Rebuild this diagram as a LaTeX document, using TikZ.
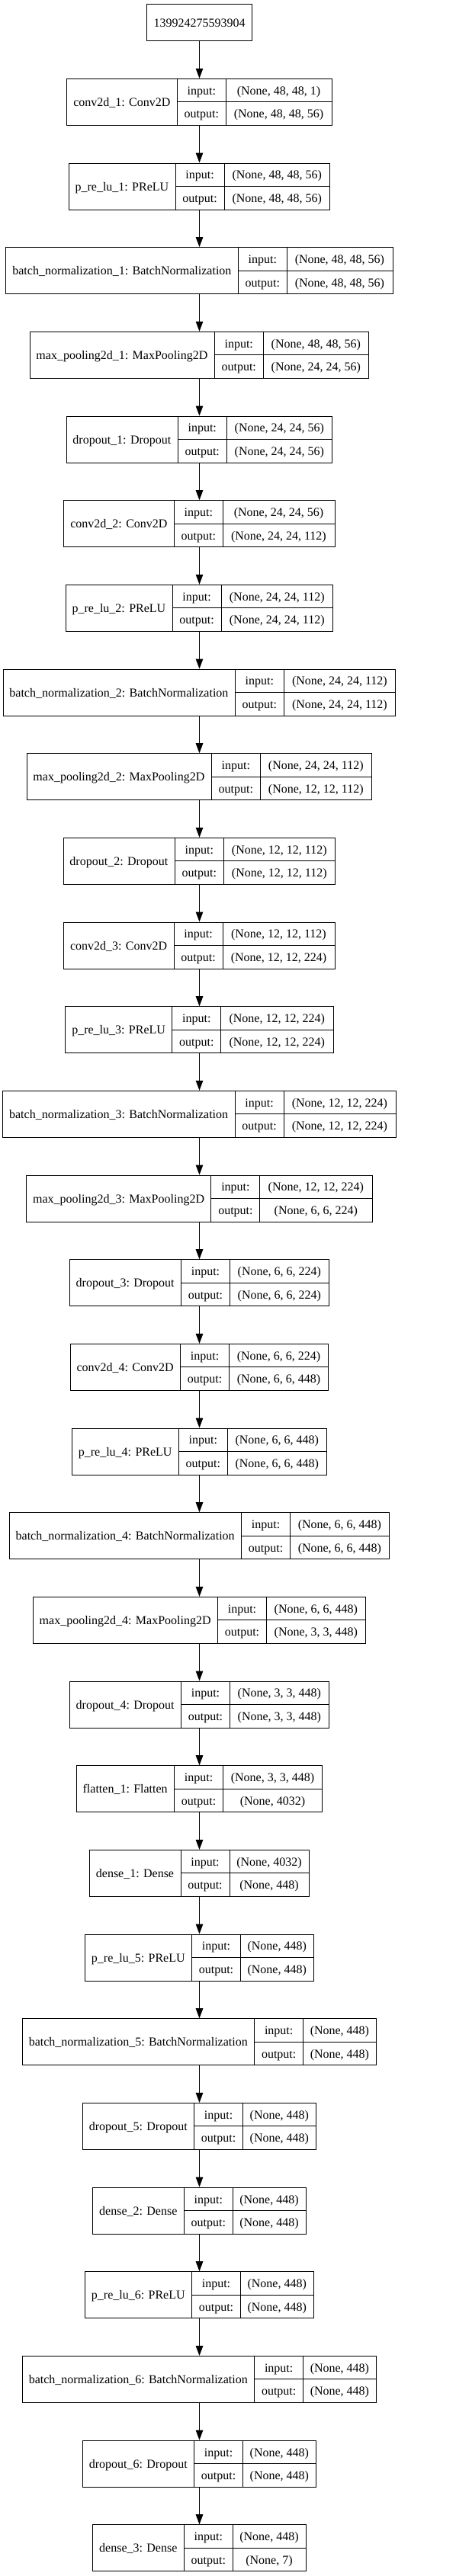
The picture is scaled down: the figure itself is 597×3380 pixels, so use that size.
\documentclass[tikz,border=0pt]{standalone}
\usepackage{fontspec}
\setmainfont{Liberation Serif}
\usepackage{tikz}
\usetikzlibrary{arrows.meta}

\font\kfont="Liberation Serif" at 16pt
\newlength\namew \newlength\valw \newlength\tmpw

\tikzset{
  layer/.style={draw, line width=1pt, minimum height=61pt, inner sep=0pt},
  cell/.style={inner sep=0pt, font=\kfont, text height=14pt, text depth=2.6pt},
  flow/.style={line width=1pt, -{Triangle[length=13pt,width=9.5pt]}},
}

% one layer box: #1 name, #2 y, #3 title, #4 input shape, #5 output shape
\newcommand\layer[5]{%
  \settowidth\namew{\kfont #3}\addtolength\namew{17.8pt}%
  \settowidth\valw{\kfont #4}\settowidth\tmpw{\kfont #5}%
  \ifdim\tmpw>\valw \valw=\tmpw\fi
  \valw=1.069\valw \addtolength\valw{12.8pt}%
  \pgfmathsetlengthmacro\totw{\namew+64pt+\valw}%
  \node[layer, minimum width=\totw] (#1) at (261.5,#2) {};
  \draw[line width=1pt] ([xshift=\namew]#1.north west) -- ([xshift=\namew]#1.south west);
  \draw[line width=1pt] ([xshift=\namew+64pt]#1.north west) -- ([xshift=\namew+64pt]#1.south west);
  \draw[line width=1pt] ([xshift=\namew]#1.west) -- (#1.east);
  \node[cell] (#1-t) at ([xshift=0.5\namew]#1.west) {#3};
  \node[cell] (#1-i) at ([xshift=\namew+32pt,yshift=15.25pt]#1.west) {input:};
  \node[cell] (#1-o) at ([xshift=\namew+32pt,yshift=-15.25pt]#1.west) {output:};
  \node[cell] (#1-iv) at ([xshift=\namew+64pt+0.5\valw,yshift=15.25pt]#1.west) {#4};
  \node[cell] (#1-ov) at ([xshift=\namew+64pt+0.5\valw,yshift=-15.25pt]#1.west) {#5};
}

\begin{document}
\begin{tikzpicture}[x=1pt,y=-1pt]
\useasboundingbox (0,0) rectangle (597,3380);

% Input Node
\node[layer, minimum width=138pt, minimum height=48pt, font=\kfont, text height=14pt, text depth=2.6pt] (top) at (261.5,29.7) {139924275593904};

% Layer Nodes
\layer{L0}{133.8}{conv2d\_1: Conv2D}{(None, 48, 48, 1)}{(None, 48, 48, 56)}
\layer{L1}{244.5}{p\_re\_lu\_1: PReLU}{(None, 48, 48, 56)}{(None, 48, 48, 56)}
\layer{L2}{355.1}{batch\_normalization\_1: BatchNormalization}{(None, 48, 48, 56)}{(None, 48, 48, 56)}
\layer{L3}{465.8}{max\_pooling2d\_1: MaxPooling2D}{(None, 48, 48, 56)}{(None, 24, 24, 56)}
\layer{L4}{576.5}{dropout\_1: Dropout}{(None, 24, 24, 56)}{(None, 24, 24, 56)}
\layer{L5}{687.2}{conv2d\_2: Conv2D}{(None, 24, 24, 56)}{(None, 24, 24, 112)}
\layer{L6}{797.8}{p\_re\_lu\_2: PReLU}{(None, 24, 24, 112)}{(None, 24, 24, 112)}
\layer{L7}{908.5}{batch\_normalization\_2: BatchNormalization}{(None, 24, 24, 112)}{(None, 24, 24, 112)}
\layer{L8}{1019.2}{max\_pooling2d\_2: MaxPooling2D}{(None, 24, 24, 112)}{(None, 12, 12, 112)}
\layer{L9}{1129.8}{dropout\_2: Dropout}{(None, 12, 12, 112)}{(None, 12, 12, 112)}
\layer{L10}{1240.5}{conv2d\_3: Conv2D}{(None, 12, 12, 112)}{(None, 12, 12, 224)}
\layer{L11}{1351.2}{p\_re\_lu\_3: PReLU}{(None, 12, 12, 224)}{(None, 12, 12, 224)}
\layer{L12}{1461.8}{batch\_normalization\_3: BatchNormalization}{(None, 12, 12, 224)}{(None, 12, 12, 224)}
\layer{L13}{1572.5}{max\_pooling2d\_3: MaxPooling2D}{(None, 12, 12, 224)}{(None, 6, 6, 224)}
\layer{L14}{1683.2}{dropout\_3: Dropout}{(None, 6, 6, 224)}{(None, 6, 6, 224)}
\layer{L15}{1793.9}{conv2d\_4: Conv2D}{(None, 6, 6, 224)}{(None, 6, 6, 448)}
\layer{L16}{1904.5}{p\_re\_lu\_4: PReLU}{(None, 6, 6, 448)}{(None, 6, 6, 448)}
\layer{L17}{2015.2}{batch\_normalization\_4: BatchNormalization}{(None, 6, 6, 448)}{(None, 6, 6, 448)}
\layer{L18}{2125.9}{max\_pooling2d\_4: MaxPooling2D}{(None, 6, 6, 448)}{(None, 3, 3, 448)}
\layer{L19}{2236.5}{dropout\_4: Dropout}{(None, 3, 3, 448)}{(None, 3, 3, 448)}
\layer{L20}{2347.2}{flatten\_1: Flatten}{(None, 3, 3, 448)}{(None, 4032)}
\layer{L21}{2457.9}{dense\_1: Dense}{(None, 4032)}{(None, 448)}
\layer{L22}{2568.5}{p\_re\_lu\_5: PReLU}{(None, 448)}{(None, 448)}
\layer{L23}{2679.2}{batch\_normalization\_5: BatchNormalization}{(None, 448)}{(None, 448)}
\layer{L24}{2789.9}{dropout\_5: Dropout}{(None, 448)}{(None, 448)}
\layer{L25}{2900.6}{dense\_2: Dense}{(None, 448)}{(None, 448)}
\layer{L26}{3011.2}{p\_re\_lu\_6: PReLU}{(None, 448)}{(None, 448)}
\layer{L27}{3121.9}{batch\_normalization\_6: BatchNormalization}{(None, 448)}{(None, 448)}
\layer{L28}{3232.6}{dropout\_6: Dropout}{(None, 448)}{(None, 448)}
\layer{L29}{3343.2}{dense\_3: Dense}{(None, 448)}{(None, 7)}

% Arrows
\draw[flow] (top.south) -- (L0.north);
\foreach \i in {1,...,29}{
  \pgfmathtruncatemacro\j{\i-1}
  \draw[flow] (L\j.south) -- (L\i.north);
}

\end{tikzpicture}
\end{document}
